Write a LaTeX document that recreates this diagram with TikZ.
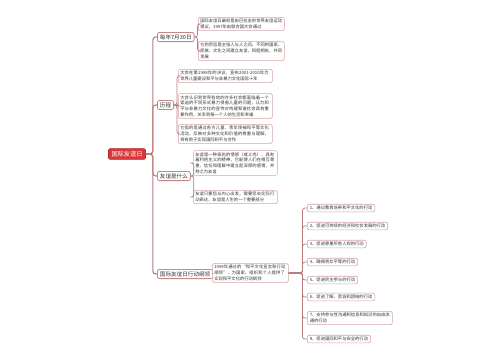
\documentclass[tikz,border=0pt]{standalone}
\usepackage{fontspec}
\setmainfont{Noto Sans CJK SC}
\XeTeXlinebreaklocale "zh"
\XeTeXlinebreakskip=0pt plus 1pt
\definecolor{rootred}{HTML}{D8383C}
\definecolor{rootedge}{HTML}{B02A2E}
\definecolor{linecol}{HTML}{B97A7E}
\definecolor{boxedge}{HTML}{C4878A}
\definecolor{leafedge}{HTML}{D6A4A7}
\definecolor{txt}{HTML}{333333}
\tikzset{
  rootbox/.style={draw=rootedge,fill=rootred,text=white,rounded corners=1.5pt,line width=0.6pt,
    font=\fontsize{6.2}{7}\selectfont,inner xsep=3pt,inner ysep=2.5pt},
  branchbox/.style={draw=boxedge,fill=white,text=txt,rounded corners=2pt,line width=0.8pt,
    font=\fontsize{5.6}{6.5}\selectfont,inner xsep=2.5pt,inner ysep=2pt,anchor=west},
  leafbox/.style={draw=leafedge,fill=white,text=txt,rounded corners=1.5pt,line width=0.5pt,
    font=\fontsize{4.3}{5.7}\selectfont,inner xsep=2pt,inner ysep=1.8pt,align=left,anchor=west},
  itembox/.style={draw=leafedge,fill=white,text=txt,rounded corners=2pt,line width=0.6pt,
    font=\fontsize{4.3}{5.7}\selectfont,inner xsep=2.5pt,inner ysep=1.8pt,align=left,anchor=west},
  trunk/.style={draw=linecol,line width=1.1pt,rounded corners=3pt},
  conn/.style={draw=linecol,line width=0.7pt,rounded corners=2.5pt},
}
\begin{document}
\begin{tikzpicture}[x=1pt,y=-1pt]
\useasboundingbox[fill=white] (0,0) rectangle (500,360);
% root
\node[rootbox] (root) at (127,154) {国际友谊日};
% branches
\node[branchbox] (b1) at (157,37) {每年7月30日};
\node[branchbox] (b2) at (157,105) {历程};
\node[branchbox] (b3) at (157,176) {友谊是什么};
\node[branchbox] (b4) at (157,274) {国际友谊日行动纲领};
\foreach \b in {b1,b2,b3,b4}{\draw[trunk] (root.east) -- ++(7,0) |- (\b.west);}
% leaves of b1
\node[leafbox,text width=82pt] (l1) at (198,24) {国际友谊日最初是由巴拉圭的世界友谊运动提议，1997年由联合国大会通过};
\node[leafbox,text width=82pt] (l2) at (198,51) {它的宗旨是主张人与人之间、不同的国家、民族、文化之间建立友谊，和睦相处、共同发展};
\foreach \l in {l1,l2}{\draw[conn] (b1.east) -- ++(3,0) |- (\l.west);}
% leaves of b2
\node[leafbox,text width=90pt] (h1) at (178,76) {大会在第1998年的决议，宣布2001-2010年为世界儿童建设和平与非暴力文化国际十年};
\node[leafbox,text width=90pt] (h2) at (178,106) {大会认识到世界各地的许多社会都面临着一个紧迫的不同形式暴力侵害儿童的问题，认为和平与非暴力文化的宣传对构建和谐社会具有重要作用，关系到每一个人的生活和幸福};
\node[leafbox,text width=90pt] (h3) at (178,134) {它指的是通过各方儿童、青年领袖和平等文化活动，反映对多种文化和价值的尊重与理解，将有助于实现国际和平与合作};
\foreach \l in {h1,h2,h3}{\draw[conn] (b2.east) -- ++(3,0) |- (\l.west);}
% leaves of b3
\node[leafbox,text width=80pt] (f1) at (193,163) {友谊是一种高尚的情感（或义务），具有着利他主义的精神，它能使人们在相互尊重、信任和理解中建立起深厚的感情，并称之为友谊};
\node[leafbox,text width=80pt] (f2) at (193,197) {友谊只要您从内心出发，需要您去实际行动表达，友谊是人生的一个重要部分};
\foreach \l in {f1,f2}{\draw[conn] (b3.east) -- ++(3,0) |- (\l.west);}
% leaf of b4
\node[leafbox,text width=72pt] (g0) at (212,273) {1999年通过的“和平文化宣言和行动纲领”，为国家、组织和个人提供了实现和平文化的行动纲领};
\draw[conn] (b4.east) -- (g0.west);
% items
\node[itembox] (i1) at (307,208) {1、通过教育培养和平文化的行动};
\node[itembox] (i2) at (307,226) {2、促进可持续的经济和社会发展的行动};
\node[itembox] (i3) at (307,244) {3、促进尊重所有人权的行动};
\node[itembox] (i4) at (307,262) {4、确保男女平等的行动};
\node[itembox] (i5) at (307,280) {5、促进民主参与的行动};
\node[itembox] (i6) at (307,297) {6、促进了解、宽容和团结的行动};
\node[itembox,text width=80pt] (i7) at (307,318) {7、支持参与性沟通和信息和知识的自由流通的行动};
\node[itembox] (i8) at (307,339) {8、促进国际和平与安全的行动};
\foreach \i in {i1,i2,i3,i4,i5,i6,i7,i8}{\draw[conn] (g0.east) -- ++(14,0) |- (\i.west);}
\end{tikzpicture}
\end{document}
